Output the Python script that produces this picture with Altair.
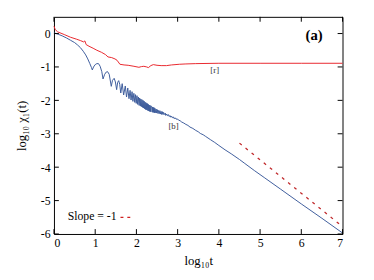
import altair as alt
import pandas as pd

# ---- data ----
red_x = [0, 0.03, 0.09, 0.25, 0.4, 0.55, 0.64, 0.72, 0.75, 0.78, 0.85, 0.95, 1.04, 1.15,
         1.25, 1.31, 1.4, 1.48, 1.53, 1.6, 1.7, 1.8, 1.94, 2.06, 2.12, 2.18, 2.25, 2.29,
         2.35, 2.41, 2.5, 2.6, 2.73, 2.85, 3.04, 3.2, 3.44, 4.0, 5.0, 6.0, 7.0]
red_y = [0.22, 0.12, 0.05, -0.03, -0.11, -0.17, -0.21, -0.25, -0.22, -0.33, -0.38, -0.44,
         -0.50, -0.56, -0.63, -0.70, -0.72, -0.76, -0.80, -0.92, -0.94, -0.95, -0.98, -1.01,
         -0.99, -0.98, -1.00, -1.02, -0.96, -0.93, -0.95, -0.96, -0.96, -0.94, -0.92, -0.91,
         -0.90, -0.89, -0.89, -0.89, -0.89]

blue_x = [0, 0.1, 0.2, 0.3, 0.4, 0.5, 0.57, 0.64, 0.71, 0.77, 0.82, 0.87, 0.91, 0.93, 0.96,
          1.0, 1.04, 1.08, 1.12, 1.16, 1.19, 1.23, 1.27, 1.30, 1.34, 1.39, 1.42, 1.46, 1.49,
          1.52, 1.545, 1.57, 1.595, 1.62,
          1.655, 1.69, 1.73, 1.76, 1.79, 1.82, 1.846, 1.87, 1.894, 1.915, 1.938, 1.96, 1.978,
          1.995, 2.014, 2.03, 2.048, 2.065, 2.079, 2.095, 2.108, 2.12, 2.135, 2.15, 2.161,
          2.17, 2.185, 2.195, 2.208, 2.22, 2.23, 2.24, 2.25, 2.26, 2.27, 2.28, 2.29, 2.30,
          2.31, 2.32, 2.33, 2.34, 2.35,
          2.37, 2.38, 2.39, 2.40, 2.41, 2.42, 2.43, 2.44, 2.45, 2.46, 2.48, 2.49, 2.51, 2.52,
          2.54, 2.55, 2.57, 2.58, 2.60, 2.61, 2.63, 2.64, 2.66, 2.67, 2.70, 2.71, 2.74, 2.75,
          2.78, 2.79, 2.82, 2.83, 2.86, 2.87, 2.90, 2.91, 2.95, 2.96, 3.0, 3.02, 3.06, 3.1,
          3.15, 3.2, 3.25, 3.3, 3.37, 3.44, 3.5, 3.55, 3.62, 3.68, 3.8, 3.9, 4.0, 4.15, 4.3,
          4.5, 4.63, 4.86, 5.1, 5.5, 6.0, 6.5, 7.0]
blue_y = [0.02, -0.02, -0.07, -0.13, -0.20, -0.27, -0.34, -0.42, -0.53, -0.64, -0.76, -0.90,
          -1.02, -1.09, -1.00, -0.93, -0.90, -0.90, -0.98, -1.14, -1.36, -1.22, -1.15, -1.14,
          -1.22, -1.58, -1.40, -1.34, -1.45, -1.68, -1.46, -1.41, -1.52, -1.78,
          -1.50, -1.84, -1.57, -1.90, -1.63, -1.95, -1.70, -1.99, -1.74, -2.03, -1.79, -2.06,
          -1.83, -2.09, -1.86, -2.12, -1.90, -2.15, -1.93, -2.17, -1.96, -2.19, -1.98, -2.21,
          -2.00, -2.23, -2.02, -2.25, -2.05, -2.27, -2.07, -2.28, -2.09, -2.29, -2.10, -2.31,
          -2.12, -2.32, -2.14, -2.33, -2.15, -2.34, -2.17,
          -2.18, -2.35, -2.20, -2.36, -2.21, -2.36, -2.22, -2.37, -2.24, -2.37, -2.26, -2.38,
          -2.28, -2.39, -2.30, -2.40, -2.31, -2.41, -2.33, -2.42, -2.34, -2.42, -2.36, -2.43,
          -2.38, -2.45, -2.41, -2.46, -2.43, -2.48, -2.46, -2.50, -2.48, -2.52, -2.50, -2.54,
          -2.53, -2.56, -2.56, -2.59, -2.61, -2.65, -2.68, -2.72, -2.75, -2.80, -2.84, -2.90,
          -2.94, -2.99, -3.03, -3.08, -3.18, -3.26, -3.35, -3.48, -3.60, -3.77, -3.89, -4.10,
          -4.31, -4.66, -5.10, -5.53, -5.97]

slope_x = [4.5, 6.97]
slope_y = [-3.28, -5.75]

x_ticks = [0, 1, 2, 3, 4, 5, 6, 7]
y_ticks = [-6, -5, -4, -3, -2, -1, 0]

curve_labels = ["[r]", "[b]"]
curve_label_x = [3.9, 2.9]
curve_label_y = [-1.08, -2.78]

panel_label = ["(a)"]
panel_x = [6.31]
panel_y = [-0.06]

legend_text = "Slope = -1"

# ---- tables ----
red_df = pd.DataFrame({"x": red_x, "y": red_y})
blue_df = pd.DataFrame({"x": blue_x, "y": blue_y})
slope_df = pd.DataFrame({"x": slope_x, "y": slope_y})
xt_df = pd.DataFrame({"x": x_ticks})
yt_df = pd.DataFrame({"y": y_ticks})
lab_df = pd.DataFrame({"x": curve_label_x, "y": curve_label_y, "t": curve_labels})
pan_df = pd.DataFrame({"x": panel_x, "y": panel_y, "t": panel_label})

W, H = 295, 222
FONT = "Times New Roman, Liberation Serif, DejaVu Serif, serif"

xscale = alt.Scale(domain=[0, 7], nice=False, zero=False)
yscale = alt.Scale(domain=[-6, 0.5], nice=False, zero=False)
xaxis = alt.Axis(values=x_ticks, title="log₁₀t", labelExpr="'' + datum.value",
                 titlePadding=6)
yaxis = alt.Axis(values=y_ticks, title="log₁₀ χ₁(t)", labelExpr="'' + datum.value",
                 titlePadding=12)

X = alt.X("x:Q", scale=xscale, axis=xaxis)
Y = alt.Y("y:Q", scale=yscale, axis=yaxis)

red = alt.Chart(red_df).mark_line(color="#e8262c", strokeWidth=1).encode(x=X, y=Y)
blue = alt.Chart(blue_df).mark_line(color="#3d5c9c", strokeWidth=1).encode(x=X, y=Y)
slope = alt.Chart(slope_df).mark_line(color="#c0282a", strokeWidth=1.3,
                                      strokeDash=[3, 5]).encode(x=X, y=Y)

tick_len = 5
bt = alt.Chart(xt_df).mark_rule(color="black", strokeWidth=1).encode(
    x=X, y=alt.value(H), y2=alt.value(H - tick_len))
tt = alt.Chart(xt_df).mark_rule(color="black", strokeWidth=1).encode(
    x=X, y=alt.value(0), y2=alt.value(tick_len))
lt = alt.Chart(yt_df).mark_rule(color="black", strokeWidth=1).encode(
    y=Y, x=alt.value(0), x2=alt.value(tick_len))
rt = alt.Chart(yt_df).mark_rule(color="black", strokeWidth=1).encode(
    y=Y, x=alt.value(W), x2=alt.value(W - tick_len))

labs = alt.Chart(lab_df).mark_text(font=FONT, fontSize=9, color="#333333").encode(
    x=X, y=Y, text="t:N")
pan = alt.Chart(pan_df).mark_text(font=FONT, fontSize=15, fontWeight="bold",
                                  color="black").encode(x=X, y=Y, text="t:N")

leg_text = alt.Chart(pd.DataFrame({"t": [legend_text]})).mark_text(
    font=FONT, fontSize=12, color="black", align="left", baseline="middle").encode(
    x=alt.value(14), y=alt.value(204), text="t:N")
leg_line = alt.Chart(pd.DataFrame({"t": [legend_text]})).mark_rule(
    color="#d02020", strokeWidth=1.3, strokeDash=[3, 4]).encode(
    x=alt.value(68), x2=alt.value(79), y=alt.value(205))

chart = alt.layer(red, blue, slope, bt, tt, lt, rt, labs, pan, leg_text, leg_line).properties(
    width=W, height=H,
    autosize=alt.AutoSizeParams(type="none"),
    padding={"left": 47, "top": 6, "right": 24, "bottom": 44},
    background="white",
).configure_view(stroke="black", strokeWidth=1).configure_axis(
    labelFont=FONT, labelFontSize=12, labelColor="black",
    titleFont=FONT, titleFontSize=13, titleFontWeight="normal", titleColor="black",
    tickSize=0, domain=False, grid=False, labelPadding=4,
)

chart.save("out.html", embed_options={"renderer": "svg", "actions": False})
